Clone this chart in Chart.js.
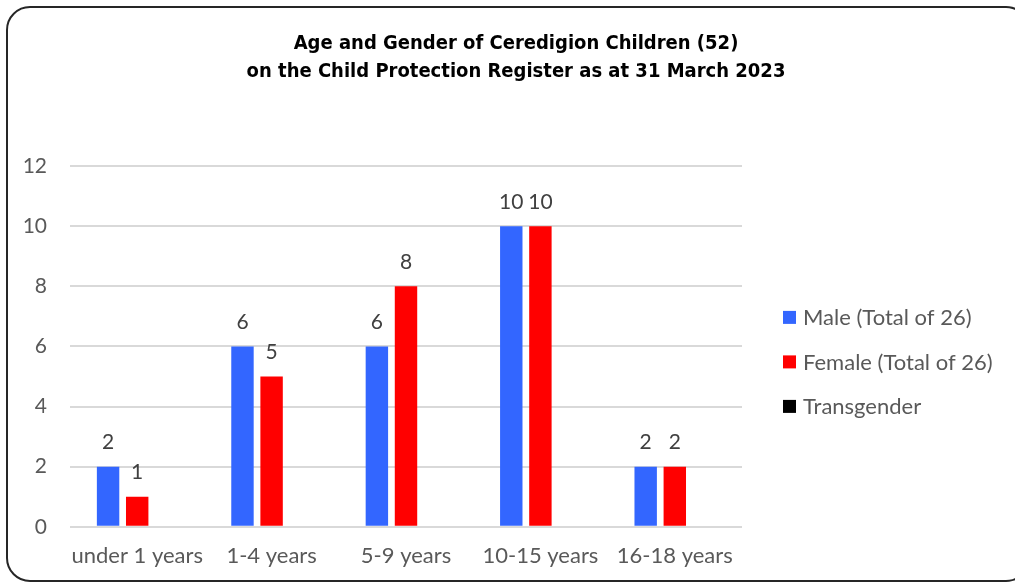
<!DOCTYPE html>
<html>
<head>
    <title>Child Protection Register</title>
    <meta charset="UTF-8">
    <script src="https://cdn.jsdelivr.net/npm/chart.js@4.4.0/dist/chart.umd.min.js"></script>
    <style>
        body { margin: 0; background: #fff; }
        #frame {
            position: absolute; left: 6px; top: 6px; width: 1020px; height: 572px;
            border: 2px solid #262626; border-radius: 24px;
        }
        #wrap { position: absolute; left: 0; top: 0; width: 1015px; height: 585px; }
    </style>
</head>
<body>
    <div id="frame"></div>
    <div id="wrap"><canvas id="myChart"></canvas></div>
    <script>
        let ageGroups = ['under 1 years', '1-4 years', '5-9 years', '10-15 years', '16-18 years'];
        let maleCounts = [2, 6, 6, 10, 2];
        let femaleCounts = [1, 5, 8, 10, 2];
        let transCounts = [0, 0, 0, 0, 0];
        let yTicks = [0, 2, 4, 6, 8, 10, 12];

        // numbers above each bar
        const barLabels = {
            id: 'barLabels',
            afterDatasetsDraw(chart) {
                const ctx = chart.ctx;
                ctx.save();
                ctx.font = '21px Lato';
                ctx.fillStyle = '#404040';
                ctx.textAlign = 'center';
                ctx.textBaseline = 'middle';
                chart.data.datasets.forEach(function (ds, i) {
                    const meta = chart.getDatasetMeta(i);
                    meta.data.forEach(function (bar, j) {
                        if (ds.data[j] > 0) {
                            ctx.fillText(ds.data[j], bar.x, bar.y - 24);
                        }
                    });
                });
                ctx.restore();
            }
        };

        // legend on the right, drawn from the datasets
        const sideLegend = {
            id: 'sideLegend',
            afterDraw(chart) {
                const ctx = chart.ctx;
                const area = chart.chartArea;
                const x = area.right + 41;
                const midY = (area.top + area.bottom) / 2 + 15.5;
                ctx.save();
                ctx.font = '22px Lato';
                ctx.textAlign = 'left';
                ctx.textBaseline = 'middle';
                chart.data.datasets.forEach(function (ds, i) {
                    const y = midY + (i - 1) * 44.5;
                    ctx.fillStyle = ds.backgroundColor;
                    ctx.fillRect(x, y - 6.5, 13, 13);
                    ctx.fillStyle = '#595959';
                    ctx.fillText(ds.label, x + 20, y + 1);
                });
                ctx.restore();
            }
        };

        var ctx = document.getElementById('myChart').getContext('2d');
        var myChart = new Chart(ctx, {
            type: 'bar',
            data: {
                labels: ageGroups,
                datasets: [{
                    label: 'Male (Total of 26)',
                    data: maleCounts,
                    backgroundColor: '#3366ff'
                }, {
                    label: 'Female (Total of 26)',
                    data: femaleCounts,
                    backgroundColor: '#ff0000'
                }, {
                    label: 'Transgender',
                    data: transCounts,
                    backgroundColor: '#000000'
                }]
            },
            options: {
                responsive: true,
                maintainAspectRatio: false,
                animation: false,
                categoryPercentage: 0.65,
                barPercentage: 0.77,
                layout: { padding: { left: 21, right: 4, top: 30, bottom: 0 } },
                plugins: {
                    title: {
                        display: true,
                        text: ['Age and Gender of Ceredigion Children (52)', 'on the Child Protection Register as at 31 March 2023'],
                        color: '#000',
                        font: { family: "'DejaVu Sans Condensed', 'Liberation Sans', sans-serif", size: 20, weight: 'bold', lineHeight: '28px' },
                        padding: { top: 0, bottom: 80 }
                    },
                    legend: { display: false },
                    tooltip: { enabled: false }
                },
                scales: {
                    x: {
                        grid: { display: false, drawTicks: false },
                        border: { display: false },
                        ticks: {
                            color: '#595959', font: { family: 'Lato', size: 22, lineHeight: 1.1 }, padding: 17,
                            maxRotation: 0, minRotation: 0, autoSkip: false
                        }
                    },
                    y: {
                        min: 0,
                        max: 12,
                        afterBuildTicks: function (axis) {
                            axis.ticks = yTicks.map(function (v) { return { value: v }; });
                        },
                        afterFit: function (axis) { axis.width = 49; },
                        grid: { color: '#d9d9d9', lineWidth: 2, drawTicks: false },
                        border: { display: false },
                        ticks: { color: '#595959', font: { family: 'Lato', size: 21 }, padding: 23 }
                    },
                    // empty axis that keeps room for the legend
                    legendRoom: {
                        axis: 'y',
                        position: 'right',
                        display: true,
                        grid: { display: false, drawTicks: false },
                        border: { display: false },
                        ticks: { display: false },
                        afterFit: function (axis) { axis.width = 269; }
                    }
                }
            },
            plugins: [barLabels, sideLegend]
        });
    </script>
</body>
</html>
